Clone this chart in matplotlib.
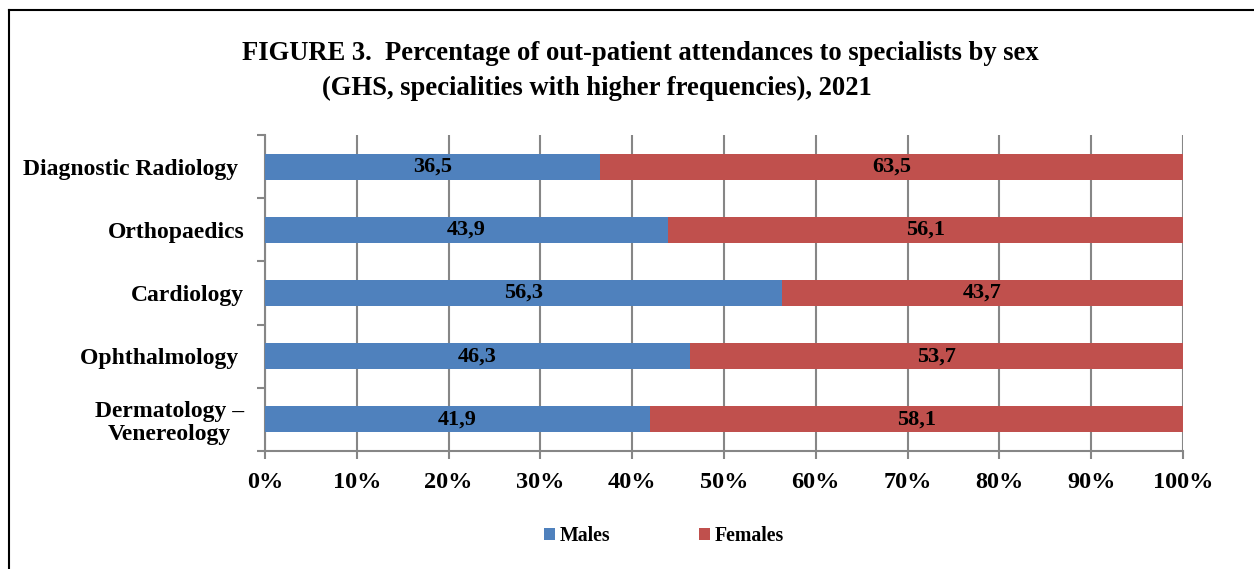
import matplotlib
matplotlib.use("Agg")
import matplotlib.pyplot as plt
from matplotlib.lines import Line2D
import numpy as np

categories = ["Diagnostic Radiology ", "Orthopaedics", "Cardiology", "Ophthalmology ", "Dermatology \u2013\nVenereology"]
males = [36.5, 43.9, 56.3, 46.3, 41.9]
females = [63.5, 56.1, 43.7, 53.7, 58.1]
xticks = [0, 10, 20, 30, 40, 50, 60, 70, 80, 90, 100]
xticklabels = [f"{t}%" for t in xticks]
title_line1 = "FIGURE 3.  Percentage of out-patient attendances to specialists by sex"
title_line2 = "(GHS, specialities with higher frequencies), 2021"

BLUE = "#4F81BD"
RED = "#C0504D"
GRID = "#868686"
plt.rcParams['font.family'] = ['Liberation Serif', 'DejaVu Serif']
plt.rcParams['font.weight'] = 'bold'

fig = plt.figure(figsize=(12.54, 5.69), dpi=100)
ax = fig.add_axes([265/1254, 1-451/569, (1183-265)/1254, (451-135)/569])

y = np.arange(len(categories))
h = 0.41
bm = ax.barh(y, males, height=h, color=BLUE, label="Males", zorder=3)
bf = ax.barh(y, females, left=males, height=h, color=RED, label="Females", zorder=3)

for i in range(len(categories)):
    ax.text(males[i]/2, y[i], f"{males[i]:.1f}".replace(".", ","), ha="center", va="center",
            fontsize=16, fontweight="bold", zorder=4)
    ax.text(males[i] + females[i]/2, y[i], f"{females[i]:.1f}".replace(".", ","), ha="center", va="center",
            fontsize=16, fontweight="bold", zorder=4)

ax.set_xlim(0, 100)
ax.set_ylim(len(categories)-0.5, -0.5)
ax.set_xticks(xticks)
ax.set_xticklabels(xticklabels, fontsize=17.5, fontweight="bold")
ax.set_yticks(y)
ax.set_yticklabels(categories, fontsize=17, fontweight="bold", linespacing=1.12,
                   multialignment="center")
ax.tick_params(axis="y", which="major", length=0, pad=15)
ax.set_yticks(np.arange(-0.5, len(categories), 1), minor=True)
ax.tick_params(axis="y", which="minor", length=6, color=GRID, width=1.5, direction="out")
ax.tick_params(axis="x", which="major", length=6, color=GRID, width=1.5, direction="out", pad=9)
ax.grid(axis="x", color=GRID, linewidth=1.5, zorder=0)
for s in ["top", "right"]:
    ax.spines[s].set_visible(False)
for s in ["left", "bottom"]:
    ax.spines[s].set_color(GRID)
    ax.spines[s].set_linewidth(1.5)

fig.text(640/1254, 1-53/569, title_line1, ha="center", va="center", fontsize=19.2, fontweight="bold")
fig.text(597/1254, 1-88/569, title_line2, ha="center", va="center", fontsize=19.2, fontweight="bold")

leg = fig.legend(handles=[bm, bf], loc="center", bbox_to_anchor=(664/1254, 1-536/569), ncol=2,
                 frameon=False, prop={"family": "Liberation Serif", "weight": "bold", "size": 14.3},
                 handlelength=0.55, handleheight=0.55, handletextpad=0.25, columnspacing=4.45)

fig.add_artist(Line2D([9/1254, 9/1254], [0, 1-10/569], transform=fig.transFigure, color="black", linewidth=1.5))
fig.add_artist(Line2D([9/1254, 1], [1-10/569, 1-10/569], transform=fig.transFigure, color="black", linewidth=1.5))

fig.savefig("out.png", dpi=100)
